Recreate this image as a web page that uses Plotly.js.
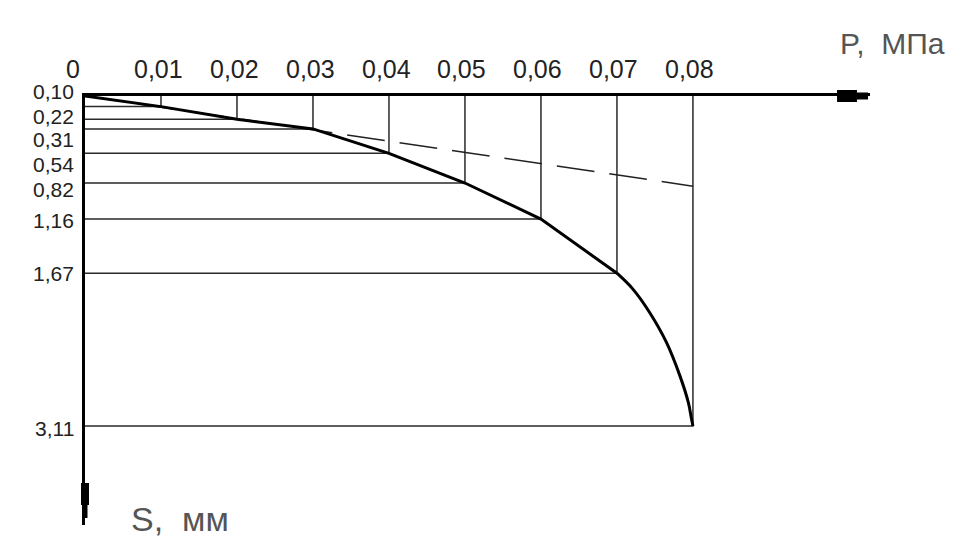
<!DOCTYPE html>
<html>
<head>
<meta charset="utf-8">
<script src="https://cdn.plot.ly/plotly-3.0.1.min.js"></script>
<style>html,body{margin:0;padding:0;background:#fff;}#chart{width:969px;height:549px;}</style>
</head>
<body>
<div id="chart"></div>
<script>
// Measured points: load P (MPa) and settlement S (mm)
const P = [0.01, 0.02, 0.03, 0.04, 0.05, 0.06, 0.07, 0.08];
const S = [0.10, 0.22, 0.31, 0.54, 0.82, 1.16, 1.67, 3.11];
const sLabels = ["0,10", "0,22", "0,31", "0,54", "0,82", "1,16", "1,67", "3,11"];

// Settlement curve as drawn: straight part through the measured points ...
const curveP = [0, 0.01, 0.02, 0.03, 0.04, 0.05, 0.06, 0.07];
const curveS = [0, 0.10, 0.22, 0.31, 0.54, 0.82, 1.16, 1.67];
// ... and the final arc
const arcP = [0.07, 0.0721, 0.0743, 0.0765, 0.0783, 0.0794, 0.0798, 0.08];
const arcS = [1.67, 1.82, 2.04, 2.32, 2.64, 2.89, 3.04, 3.11];

// Dashed extension of the linear part
const dashP = [0, 0.08];
const dashS = [0, 0.85];

// Top axis tick labels
const pTicks = [0, 0.01, 0.02, 0.03, 0.04, 0.05, 0.06, 0.07, 0.08];
const pLabels = ["0", "0,01", "0,02", "0,03", "0,04", "0,05", "0,06", "0,07", "0,08"];

// label nudges (pixels) so the crowded labels sit as in the drawing
const pLabelShift = [-12, -2, -2, -2, -2, -3, -3, -3, -3];
const sLabelShift = [15, 3, -11, -11, -6, -1, 0, -2];

const FONT = "'Liberation Sans', Arial, sans-serif";

// guide lines: horizontal from S axis to point, vertical from P axis to point
const gx = [], gy = [];
for (let i = 0; i < P.length; i++) {
  gx.push(0, P[i], P[i], null);
  gy.push(S[i], S[i], 0, null);
}

const traces = [
  {x: gx, y: gy, mode: 'lines', line: {color: '#2a2a2a', width: 1.5}, hoverinfo: 'skip', showlegend: false},
  {x: dashP, y: dashS, mode: 'lines', line: {color: '#222', width: 1.5, dash: '38px,15px'}, hoverinfo: 'skip', showlegend: false},
  {x: curveP, y: curveS, mode: 'lines', line: {color: '#000', width: 3}, hoverinfo: 'skip', showlegend: false},
  {x: arcP, y: arcS, mode: 'lines', line: {color: '#000', width: 3, shape: 'spline', smoothing: 1}, hoverinfo: 'skip', showlegend: false}
];

const annotations = [];
for (let i = 0; i < pTicks.length; i++) {
  annotations.push({x: pTicks[i], y: 0, xref: 'x', yref: 'y', text: pLabels[i], showarrow: false,
    xanchor: 'center', yanchor: 'middle', xshift: pLabelShift[i], yshift: 27,
    font: {family: FONT, size: 25, color: '#222'}});
}
for (let i = 0; i < S.length; i++) {
  annotations.push({x: 0, y: S[i], xref: 'x', yref: 'y', text: sLabels[i], showarrow: false,
    xanchor: 'right', yanchor: 'middle', xshift: -9, yshift: sLabelShift[i],
    font: {family: FONT, size: 21, color: '#222'}});
}
annotations.push({x: 1.029, y: 1.123, xref: 'paper', yref: 'paper', text: 'P,  МПа', showarrow: false,
  xanchor: 'center', yanchor: 'middle', font: {family: FONT, size: 30, color: '#555'}});
annotations.push({x: 0.121, y: 0.014, xref: 'paper', yref: 'paper', text: 'S,  мм', showarrow: false,
  xanchor: 'center', yanchor: 'middle', font: {family: FONT, size: 34, color: '#555'}});

const shapes = [
  // arrow on P axis
  {type: 'line', xref: 'paper', yref: 'paper', x0: 0.958, x1: 0.9834, y0: 1, y1: 1, line: {color: '#000', width: 12}},
  {type: 'line', xref: 'paper', yref: 'paper', x0: 0.9834, x1: 0.9975, y0: 1, y1: 1, line: {color: '#000', width: 7}},
  // arrow on S axis
  {type: 'line', xref: 'paper', yref: 'paper', x0: 0, x1: 0, y0: 0.0979, y1: 0.0466, line: {color: '#000', width: 8}},
  {type: 'line', xref: 'paper', yref: 'paper', x0: 0, x1: 0, y0: 0.0466, y1: 0.0163, line: {color: '#000', width: 5}}
];

const layout = {
  width: 969, height: 549,
  margin: {l: 85, r: 99, t: 96, b: 24},
  paper_bgcolor: '#fff', plot_bgcolor: '#fff',
  showlegend: false,
  xaxis: {range: [0, 0.1033], side: 'top', showline: true, linecolor: '#000', linewidth: 3,
    showgrid: false, zeroline: false, showticklabels: false, ticks: ''},
  yaxis: {range: [4.043, 0], showline: true, linecolor: '#000', linewidth: 3,
    showgrid: false, zeroline: false, showticklabels: false, ticks: ''},
  annotations: annotations,
  shapes: shapes
};

Plotly.newPlot('chart', traces, layout, {staticPlot: true, displayModeBar: false});
</script>
</body>
</html>
